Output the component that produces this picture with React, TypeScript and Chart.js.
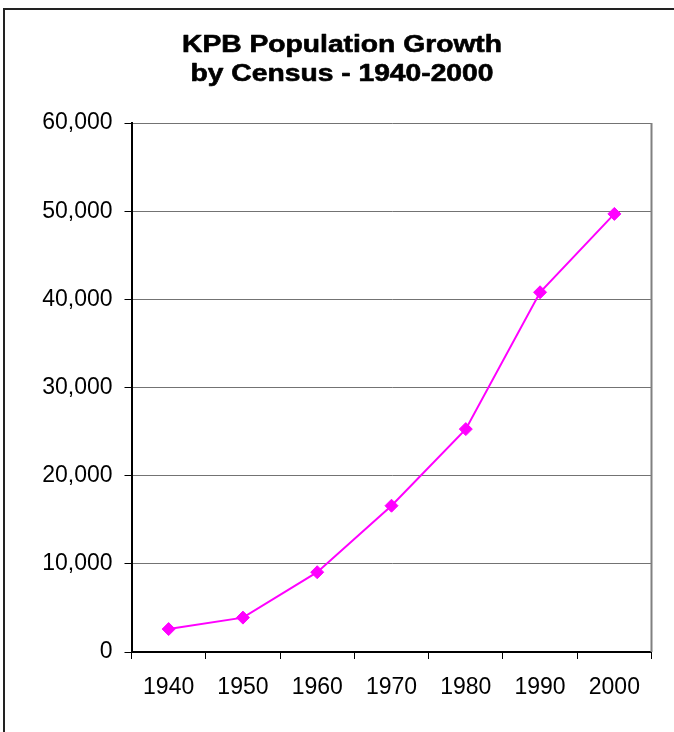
import React, { useEffect, useRef } from "react";
import { Chart, registerables } from "chart.js";

Chart.register(...registerables);

const titleLines = ["KPB Population Growth", "by Census - 1940-2000"];
const years = ["1940", "1950", "1960", "1970", "1980", "1990", "2000"];
const population = [2600, 3900, 9050, 16590, 25280, 40800, 49690];
const yMin = 0;
const yMax = 60000;
const yStep = 10000;

const FONT = "'Liberation Sans', Arial, sans-serif";

// Title is drawn as real canvas text, stretched horizontally like the reference's wide bold face
const titlePlugin = {
  id: "wideTitle",
  afterDraw(chart: any) {
    const ctx = chart.ctx;
    ctx.save();
    ctx.font = `bold 23px ${FONT}`;
    ctx.fillStyle = "#000";
    ctx.strokeStyle = "#000";
    ctx.lineWidth = 0.6;
    ctx.lineJoin = "round";
    ctx.textAlign = "center";
    ctx.textBaseline = "alphabetic";
    const w0 = ctx.measureText(titleLines[0]).width;
    const sx = 320 / w0;
    const baselines = [52, 81];
    titleLines.forEach((line, i) => {
      ctx.save();
      ctx.translate(342, baselines[i]);
      ctx.scale(sx, 1);
      ctx.fillText(line, 0, 0);
      ctx.strokeText(line, 0, 0);
      ctx.restore();
    });
    ctx.restore();
  },
};

const framePlugin = {
  id: "frame",
  beforeDraw(chart: any) {
    const ctx = chart.ctx;
    ctx.save();
    ctx.strokeStyle = "#222";
    ctx.lineWidth = 2;
    ctx.strokeRect(4, 9, chart.width + 20, chart.height + 20);
    ctx.restore();
  },
  beforeDatasetsDraw(chart: any) {
    const { ctx, chartArea } = chart;
    ctx.save();
    ctx.strokeStyle = "#808080";
    ctx.lineWidth = 2;
    ctx.beginPath();
    ctx.moveTo(chartArea.right, chartArea.top);
    ctx.lineTo(chartArea.right, chartArea.bottom);
    ctx.stroke();
    ctx.restore();
  },
};

export default function App() {
  const ref = useRef<HTMLCanvasElement>(null);

  useEffect(() => {
    if (!ref.current) return;
    const chart = new Chart(ref.current, {
      type: "line",
      data: {
        labels: years,
        datasets: [
          {
            data: population,
            borderColor: "#ff00ff",
            backgroundColor: "#ff00ff",
            borderWidth: 2,
            pointStyle: "rectRot",
            pointRadius: 6.5,
            pointBorderWidth: 1,
            pointBackgroundColor: "#ff00ff",
            pointBorderColor: "#ff00ff",
            tension: 0,
          },
        ],
      },
      options: {
        responsive: false,
        animation: false,
        layout: { padding: { left: 0, right: 22.5, top: 123, bottom: 0 } },
        plugins: {
          legend: { display: false },
          tooltip: { enabled: false },
          title: { display: false },
        },
        scales: {
          x: {
            type: "category",
            offset: true,
            grid: {
              display: true,
              offset: true,
              drawOnChartArea: false,
              tickLength: 7,
              tickColor: "#000",
              tickWidth: 1,
            },
            border: { display: true, color: "#000", width: 2 },
            ticks: {
              color: "#000",
              font: { family: FONT, size: 23 },
              padding: 15,
              maxRotation: 0,
            },
            afterFit(scale: any) {
              scale.height = 80;
            },
          },
          y: {
            min: yMin,
            max: yMax,
            grid: {
              color: "#737373",
              lineWidth: 1,
              tickLength: 7,
              tickColor: "#000",
              tickWidth: 1,
            },
            border: { display: true, color: "#000", width: 2 },
            ticks: {
              stepSize: yStep,
              color: "#000",
              font: { family: FONT, size: 23 },
              padding: 12,
              callback: (v: any) => Number(v).toLocaleString("en-US"),
            },
            afterFit(scale: any) {
              scale.width = 131.5;
            },
          },
        },
      },
      plugins: [framePlugin, titlePlugin],
    });
    return () => chart.destroy();
  }, []);

  return (
    <div style={{ position: "absolute", left: 0, top: 0, width: 674, height: 732, background: "#fff" }}>
      <canvas ref={ref} width={674} height={732} style={{ display: "block" }} />
    </div>
  );
}
